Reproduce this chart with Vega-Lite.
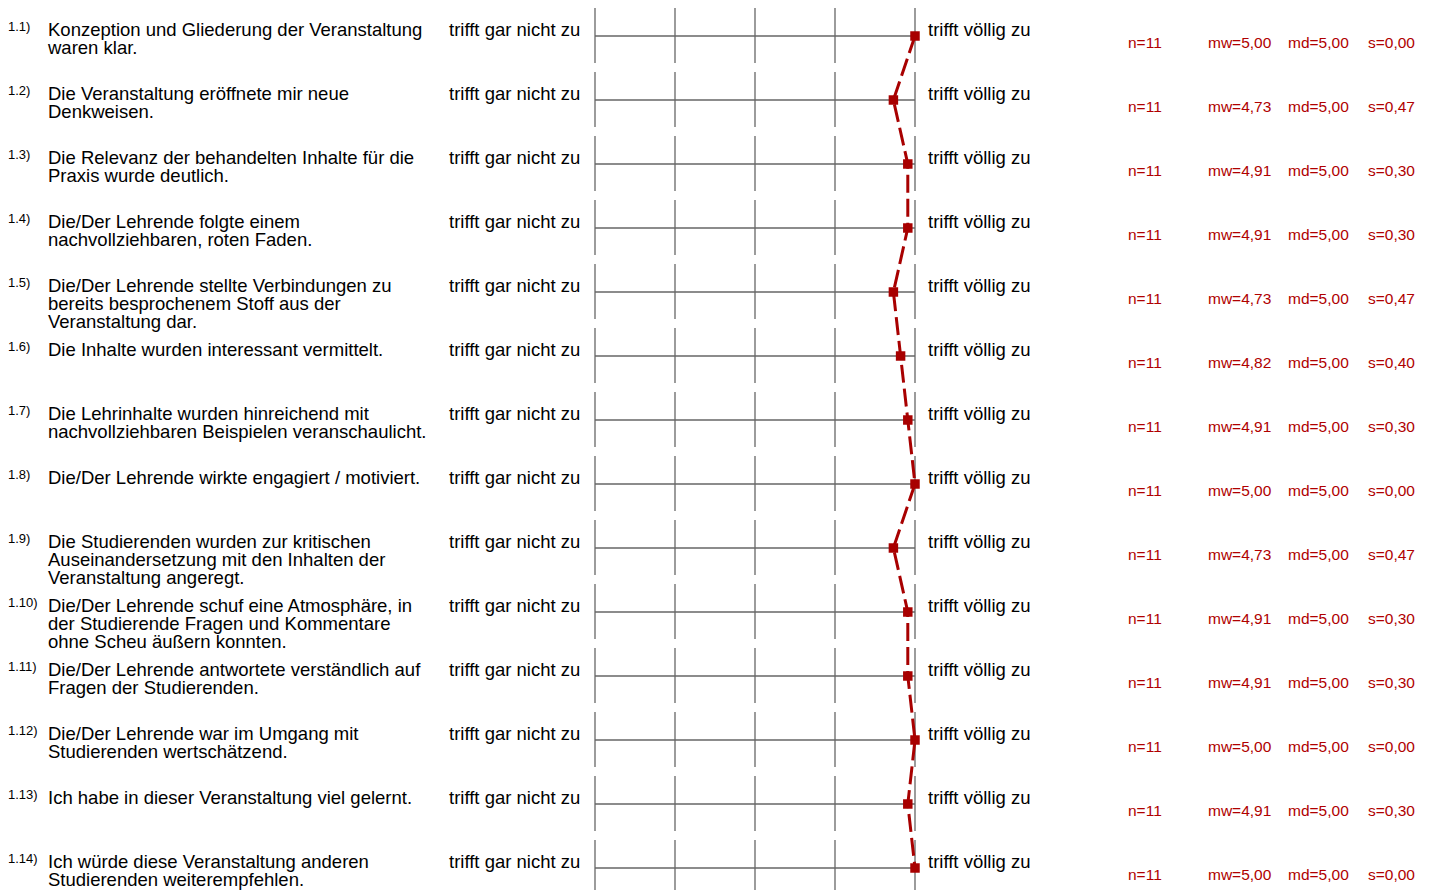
{
  "$schema": "https://vega.github.io/schema/vega-lite/v6.json",
  "width": 1434,
  "height": 890,
  "autosize": {"type": "none"},
  "padding": 0,
  "background": "white",
  "config": {"view": {"stroke": null}, "font": "Liberation Sans"},
  "data": {"values": [
    {"row": 1, "nr": "1.1)", "q": ["Konzeption und Gliederung der Veranstaltung", "waren klar."], "n": 11, "mw": 5.00, "md": 5.00, "s": 0.00},
    {"row": 2, "nr": "1.2)", "q": ["Die Veranstaltung eröffnete mir neue", "Denkweisen."], "n": 11, "mw": 4.73, "md": 5.00, "s": 0.47},
    {"row": 3, "nr": "1.3)", "q": ["Die Relevanz der behandelten Inhalte für die", "Praxis wurde deutlich."], "n": 11, "mw": 4.91, "md": 5.00, "s": 0.30},
    {"row": 4, "nr": "1.4)", "q": ["Die/Der Lehrende folgte einem", "nachvollziehbaren, roten Faden."], "n": 11, "mw": 4.91, "md": 5.00, "s": 0.30},
    {"row": 5, "nr": "1.5)", "q": ["Die/Der Lehrende stellte Verbindungen zu", "bereits besprochenem Stoff aus der", "Veranstaltung dar."], "n": 11, "mw": 4.73, "md": 5.00, "s": 0.47},
    {"row": 6, "nr": "1.6)", "q": ["Die Inhalte wurden interessant vermittelt."], "n": 11, "mw": 4.82, "md": 5.00, "s": 0.40},
    {"row": 7, "nr": "1.7)", "q": ["Die Lehrinhalte wurden hinreichend mit", "nachvollziehbaren Beispielen veranschaulicht."], "n": 11, "mw": 4.91, "md": 5.00, "s": 0.30},
    {"row": 8, "nr": "1.8)", "q": ["Die/Der Lehrende wirkte engagiert / motiviert."], "n": 11, "mw": 5.00, "md": 5.00, "s": 0.00},
    {"row": 9, "nr": "1.9)", "q": ["Die Studierenden wurden zur kritischen", "Auseinandersetzung mit den Inhalten der", "Veranstaltung angeregt."], "n": 11, "mw": 4.73, "md": 5.00, "s": 0.47},
    {"row": 10, "nr": "1.10)", "q": ["Die/Der Lehrende schuf eine Atmosphäre, in", "der Studierende Fragen und Kommentare", "ohne Scheu äußern konnten."], "n": 11, "mw": 4.91, "md": 5.00, "s": 0.30},
    {"row": 11, "nr": "1.11)", "q": ["Die/Der Lehrende antwortete verständlich auf", "Fragen der Studierenden."], "n": 11, "mw": 4.91, "md": 5.00, "s": 0.30},
    {"row": 12, "nr": "1.12)", "q": ["Die/Der Lehrende war im Umgang mit", "Studierenden wertschätzend."], "n": 11, "mw": 5.00, "md": 5.00, "s": 0.00},
    {"row": 13, "nr": "1.13)", "q": ["Ich habe in dieser Veranstaltung viel gelernt."], "n": 11, "mw": 4.91, "md": 5.00, "s": 0.30},
    {"row": 14, "nr": "1.14)", "q": ["Ich würde diese Veranstaltung anderen", "Studierenden weiterempfehlen."], "n": 11, "mw": 5.00, "md": 5.00, "s": 0.00}
  ]},
  "transform": [
    {"calculate": "'n=' + datum.n", "as": "nText"},
    {"calculate": "'mw=' + replace(format(datum.mw, '.2f'), '.', ',')", "as": "mwText"},
    {"calculate": "'md=' + replace(format(datum.md, '.2f'), '.', ',')", "as": "mdText"},
    {"calculate": "'s=' + replace(format(datum.s, '.2f'), '.', ',')", "as": "sText"}
  ],
  "encoding": {
    "y": {"field": "row", "type": "quantitative", "axis": null,
          "scale": {"domain": [0.4375, 14.34375], "reverse": true, "nice": false, "zero": false}}
  },
  "layer": [
    {"mark": {"type": "rule", "color": "#666666", "strokeWidth": 1.3},
     "encoding": {"x": {"datum": 1, "type": "quantitative", "axis": null, "scale": {"domain": [-6.4375, 11.4875], "nice": false, "zero": false}},
                  "x2": {"datum": 5}}},
    {"mark": {"type": "rule", "color": "#666666", "strokeWidth": 1.3, "yOffset": -28, "y2Offset": 27},
     "encoding": {"x": {"datum": 1, "type": "quantitative"}, "y2": {"field": "row"}}},
    {"mark": {"type": "rule", "color": "#666666", "strokeWidth": 1.3, "yOffset": -28, "y2Offset": 27},
     "encoding": {"x": {"datum": 2, "type": "quantitative"}, "y2": {"field": "row"}}},
    {"mark": {"type": "rule", "color": "#666666", "strokeWidth": 1.3, "yOffset": -28, "y2Offset": 27},
     "encoding": {"x": {"datum": 3, "type": "quantitative"}, "y2": {"field": "row"}}},
    {"mark": {"type": "rule", "color": "#666666", "strokeWidth": 1.3, "yOffset": -28, "y2Offset": 27},
     "encoding": {"x": {"datum": 4, "type": "quantitative"}, "y2": {"field": "row"}}},
    {"mark": {"type": "rule", "color": "#666666", "strokeWidth": 1.3, "yOffset": -28, "y2Offset": 27},
     "encoding": {"x": {"datum": 5, "type": "quantitative"}, "y2": {"field": "row"}}},
    {"mark": {"type": "line", "color": "#a80000", "strokeWidth": 3, "strokeDash": [18, 6]},
     "encoding": {"x": {"field": "mw", "type": "quantitative"}, "order": {"field": "row"}}},
    {"mark": {"type": "square", "color": "#a80000", "size": 90, "opacity": 1},
     "encoding": {"x": {"field": "mw", "type": "quantitative"}}},
    {"mark": {"type": "text", "align": "left", "baseline": "alphabetic", "fontSize": 13, "dy": -5, "color": "#000000"},
     "encoding": {"x": {"datum": -6.3375, "type": "quantitative"}, "text": {"field": "nr"}}},
    {"mark": {"type": "text", "align": "left", "baseline": "alphabetic", "fontSize": 18.5, "lineHeight": 18, "dy": 0, "color": "#000000"},
     "encoding": {"x": {"datum": -5.8375, "type": "quantitative"}, "text": {"field": "q"}}},
    {"mark": {"type": "text", "align": "left", "baseline": "alphabetic", "fontSize": 18.5, "dy": 0, "color": "#000000"},
     "encoding": {"x": {"datum": -0.825, "type": "quantitative"}, "text": {"value": "trifft gar nicht zu"}}},
    {"mark": {"type": "text", "align": "left", "baseline": "alphabetic", "fontSize": 18.5, "dy": 0, "color": "#000000"},
     "encoding": {"x": {"datum": 5.1625, "type": "quantitative"}, "text": {"value": "trifft völlig zu"}}},
    {"mark": {"type": "text", "align": "left", "baseline": "alphabetic", "fontSize": 15.5, "dy": 12, "color": "#b00000"},
     "encoding": {"x": {"datum": 7.6625, "type": "quantitative"}, "text": {"field": "nText"}}},
    {"mark": {"type": "text", "align": "left", "baseline": "alphabetic", "fontSize": 15.5, "dy": 12, "color": "#b00000"},
     "encoding": {"x": {"datum": 8.6625, "type": "quantitative"}, "text": {"field": "mwText"}}},
    {"mark": {"type": "text", "align": "left", "baseline": "alphabetic", "fontSize": 15.5, "dy": 12, "color": "#b00000"},
     "encoding": {"x": {"datum": 9.6625, "type": "quantitative"}, "text": {"field": "mdText"}}},
    {"mark": {"type": "text", "align": "left", "baseline": "alphabetic", "fontSize": 15.5, "dy": 12, "color": "#b00000"},
     "encoding": {"x": {"datum": 10.6625, "type": "quantitative"}, "text": {"field": "sText"}}}
  ]
}
